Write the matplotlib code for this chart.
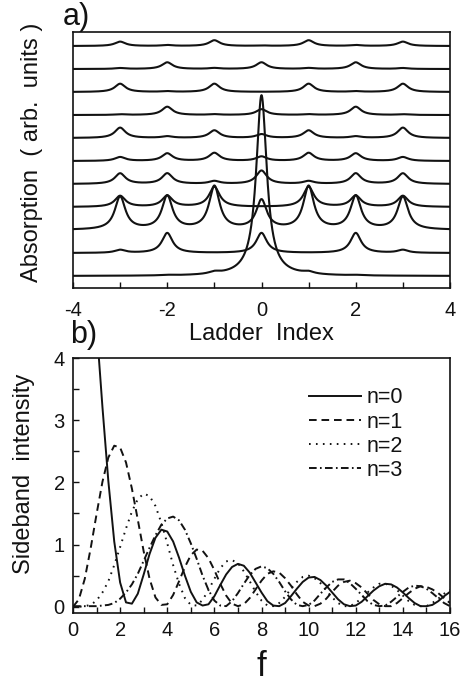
import matplotlib
matplotlib.use("Agg")
import matplotlib.pyplot as plt
from matplotlib.ticker import MultipleLocator, FixedLocator
import numpy as np

plt.rcParams['font.family'] = ['Liberation Sans', 'DejaVu Sans']
plt.rcParams['axes.unicode_minus'] = False
plt.rcParams['lines.scale_dashes'] = False

# ---------------- panel a data: peak heights (in units of trace spacing) ----------------
ladder_index = [-3, -2, -1, 0, 1, 2, 3]
spectrum_0 = [0.00, 0.02, 0.09, 7.86, 0.09, 0.02, 0.00]
spectrum_1 = [0.13, 0.87, 0.00, 0.87, 0.00, 0.87, 0.13]
spectrum_2 = [1.43, 1.45, 1.87, 1.26, 1.87, 1.45, 1.43]
spectrum_3 = [0.48, 0.48, 0.87, 0.00, 0.87, 0.48, 0.48]
spectrum_4 = [0.46, 0.46, 0.12, 0.58, 0.12, 0.46, 0.46]
spectrum_5 = [0.17, 0.33, 0.35, 0.19, 0.35, 0.33, 0.17]
spectrum_6 = [0.45, 0.07, 0.33, 0.16, 0.33, 0.07, 0.45]
spectrum_7 = [0.03, 0.36, 0.03, 0.25, 0.03, 0.36, 0.03]
spectrum_8 = [0.36, 0.03, 0.36, 0.00, 0.36, 0.03, 0.36]
spectrum_9 = [0.04, 0.29, 0.04, 0.29, 0.04, 0.29, 0.04]
spectrum_10 = [0.19, 0.04, 0.25, 0.02, 0.25, 0.04, 0.19]
linewidth_hwhm = 0.135

spectra = [spectrum_0, spectrum_1, spectrum_2, spectrum_3, spectrum_4, spectrum_5,
           spectrum_6, spectrum_7, spectrum_8, spectrum_9, spectrum_10]

# ---------------- panel b data ----------------
f_values = [0.0, 0.25, 0.5, 0.75, 1.0, 1.25, 1.5, 1.75, 2.0, 2.25, 2.5, 2.75, 3.0, 3.25, 3.5, 3.75,
            4.0, 4.25, 4.5, 4.75, 5.0, 5.25, 5.5, 5.75, 6.0, 6.25, 6.5, 6.75, 7.0, 7.25, 7.5, 7.75,
            8.0, 8.25, 8.5, 8.75, 9.0, 9.25, 9.5, 9.75, 10.0, 10.25, 10.5, 10.75, 11.0, 11.25, 11.5, 11.75,
            12.0, 12.25, 12.5, 12.75, 13.0, 13.25, 13.5, 13.75, 14.0, 14.25, 14.5, 14.75, 15.0, 15.25, 15.5, 15.75,
            16.0]
sideband_n0 = [7.70, 7.46, 6.78, 5.75, 4.51, 3.21, 2.02, 1.05, 0.39, 0.07, 0.05, 0.21, 0.52, 0.85, 1.11, 1.24,
               1.21, 1.05, 0.79, 0.50, 0.24, 0.07, 0.02, 0.04, 0.17, 0.35, 0.52, 0.64, 0.69, 0.66, 0.55, 0.39,
               0.23, 0.09, 0.02, 0.01, 0.06, 0.17, 0.29, 0.40, 0.47, 0.48, 0.43, 0.34, 0.23, 0.12, 0.04, 0.01,
               0.02, 0.08, 0.17, 0.26, 0.33, 0.37, 0.36, 0.31, 0.23, 0.14, 0.06, 0.01, 0.01, 0.03, 0.09, 0.17,
               0.24]
sideband_n1 = [0.00, 0.12, 0.45, 0.94, 1.49, 2.01, 2.40, 2.59, 2.56, 2.32, 1.90, 1.40, 0.89, 0.45, 0.15, 0.03,
               0.04, 0.19, 0.41, 0.64, 0.83, 0.92, 0.90, 0.78, 0.59, 0.37, 0.18, 0.05, 0.01, 0.04, 0.14, 0.28,
               0.42, 0.53, 0.57, 0.55, 0.46, 0.34, 0.20, 0.08, 0.02, 0.01, 0.05, 0.13, 0.24, 0.34, 0.40, 0.42,
               0.38, 0.31, 0.21, 0.11, 0.04, 0.01, 0.01, 0.06, 0.14, 0.22, 0.29, 0.33, 0.32, 0.28, 0.22, 0.14,
               0.06]
sideband_n2 = [0.00, 0.00, 0.01, 0.03, 0.10, 0.23, 0.41, 0.67, 0.96, 1.26, 1.53, 1.73, 1.82, 1.78, 1.62, 1.35,
               1.02, 0.67, 0.37, 0.14, 0.03, 0.02, 0.11, 0.27, 0.45, 0.62, 0.73, 0.75, 0.70, 0.57, 0.41, 0.24,
               0.10, 0.02, 0.01, 0.06, 0.16, 0.29, 0.40, 0.48, 0.50, 0.46, 0.38, 0.26, 0.15, 0.06, 0.01, 0.01,
               0.06, 0.14, 0.23, 0.31, 0.37, 0.37, 0.34, 0.27, 0.18, 0.09, 0.03, 0.01, 0.01, 0.06, 0.13, 0.21,
               0.27]
sideband_n3 = [0.01, 0.01, 0.01, 0.01, 0.01, 0.02, 0.03, 0.06, 0.13, 0.23, 0.36, 0.53, 0.74, 0.95, 1.15, 1.32,
               1.42, 1.45, 1.39, 1.24, 1.02, 0.77, 0.50, 0.27, 0.10, 0.02, 0.01, 0.09, 0.22, 0.37, 0.51, 0.61,
               0.65, 0.62, 0.53, 0.40, 0.25, 0.12, 0.03, 0.01, 0.03, 0.10, 0.21, 0.31, 0.40, 0.44, 0.44, 0.38,
               0.29, 0.19, 0.09, 0.03, 0.01, 0.02, 0.08, 0.16, 0.24, 0.31, 0.34, 0.33, 0.29, 0.22, 0.14, 0.06,
               0.01]
series_labels = ['n=0', 'n=1', 'n=2', 'n=3']

ink = '#121212'

fig = plt.figure(figsize=(4.69, 6.86), dpi=100)
W, H = 469.0, 686.0


def box(l, t, r, b):
    return [l / W, 1 - b / H, (r - l) / W, (b - t) / H]


# ---------------- panel a ----------------
axa = fig.add_axes(box(73, 32, 450, 288))
x = np.linspace(-4, 4, 2401)
g2 = linewidth_hwhm ** 2
for i, peaks in enumerate(spectra):
    y = np.full_like(x, float(i))
    for pos, amp in zip(ladder_index, peaks):
        y = y + amp * g2 / ((x - pos) ** 2 + g2)
    axa.plot(x, y, color=ink, lw=1.5, solid_joinstyle='round')
axa.set_xlim(-4, 4)
axa.set_ylim(-0.52, 10.61)
axa.xaxis.set_major_locator(FixedLocator([-4, -2, 0, 2, 4]))
axa.xaxis.set_minor_locator(FixedLocator([-3, -1, 1, 3]))
axa.set_yticks([])
axa.tick_params(axis='x', which='both', direction='in', length=4, width=1.0,
                color=ink, pad=9.5, labelsize=14.5, labelcolor=ink)
for s in axa.spines.values():
    s.set_linewidth(1.2)
    s.set_color(ink)

# ---------------- panel b ----------------
axb = fig.add_axes(box(73, 358, 450, 613))
styles = ['-', (0, (5.5, 3.5)), (0, (1.2, 3.8)), (0, (5.5, 2.4, 1.2, 2.4))]
handles = []
for vals, ls, lab in zip([sideband_n0, sideband_n1, sideband_n2, sideband_n3], styles, series_labels):
    h, = axb.plot(f_values, vals, color=ink, lw=1.4, linestyle=ls, label=lab)
    handles.append(h)
axb.set_xlim(0, 16)
axb.set_ylim(-0.1, 4)
axb.xaxis.set_major_locator(MultipleLocator(2))
axb.xaxis.set_minor_locator(MultipleLocator(1))
axb.yaxis.set_major_locator(MultipleLocator(1))
axb.yaxis.set_minor_locator(MultipleLocator(0.5))
axb.tick_params(axis='both', which='both', direction='in', length=4, width=1.0,
                color=ink, pad=6, labelsize=14.5, labelcolor=ink)
for s in axb.spines.values():
    s.set_linewidth(1.2)
    s.set_color(ink)

leg = axb.legend(handles=handles, loc='upper left', bbox_to_anchor=(0.625, 0.885),
                 frameon=False, fontsize=15.5, handlelength=2.45, handletextpad=0.25,
                 labelspacing=0.15, borderpad=0, borderaxespad=0)
for t in leg.get_texts():
    t.set_color(ink)

# ---------------- text labels ----------------
fig.text(63 / W, 1 - 17 / H, 'a)', fontsize=22, ha='left', va='center', color=ink)
fig.text(70 / W, 1 - 335 / H, 'b)', fontsize=22, ha='left', va='center', color=ink)
fig.text(261.5 / W, 1 - 334 / H, 'Ladder  Index', fontsize=17, ha='center', va='center', color=ink)
fig.text(32 / W, 1 - 152 / H, 'Absorption  ( arb.  units )', fontsize=17, rotation=90,
         ha='center', va='center', color=ink)
fig.text(24 / W, 1 - 474 / H, 'Sideband  intensity', fontsize=17, rotation=90,
         ha='center', va='center', color=ink)
fig.text(261.5 / W, 1 - 667 / H, 'f', fontsize=25, ha='center', va='center', color=ink)

fig.savefig('out.png', dpi=100)
